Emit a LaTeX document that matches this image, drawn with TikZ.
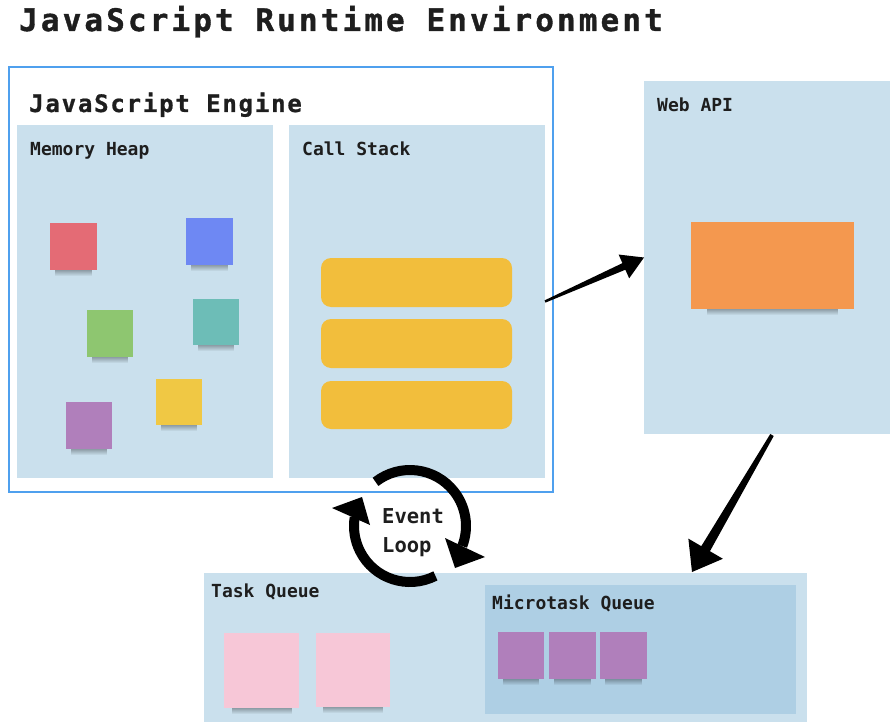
\documentclass[tikz,border=0pt]{standalone}
\usepackage{fontspec}
\setmainfont{DejaVu Sans Mono}[BoldFont={DejaVu Sans Mono Bold}]
\newfontfamily\titlefont{DejaVu Sans Mono Bold}[LetterSpace=10, FakeBold=1.2]
\newfontfamily\enginefont{DejaVu Sans Mono Bold}[LetterSpace=7.5, FakeBold=0.8]
\usetikzlibrary{calc,fadings}
\definecolor{panel}{HTML}{CAE0ED}
\definecolor{micro}{HTML}{AECFE4}
\definecolor{frame}{HTML}{4FA0EE}
\definecolor{txt}{HTML}{1E1E1E}
\definecolor{sred}{HTML}{E46B75}
\definecolor{sblue}{HTML}{6E88F3}
\definecolor{sgreen}{HTML}{8EC670}
\definecolor{steal}{HTML}{6DBDB7}
\definecolor{spurple}{HTML}{B07FBB}
\definecolor{syellow}{HTML}{F0C844}
\definecolor{sorange}{HTML}{F4984F}
\definecolor{spink}{HTML}{F7C7D7}
\definecolor{barc}{HTML}{F2BE3C}
\tikzset{
  panelbox/.style={fill=panel, draw=none, anchor=north west, inner sep=0pt, outer sep=0pt},
  microbox/.style={fill=micro, draw=none, anchor=north west, inner sep=0pt, outer sep=0pt},
  outerbox/.style={draw=frame, line width=1.5pt, fill=white, anchor=north west, inner sep=0pt, outer sep=0pt},
  stickynote/.style={draw=none, inner sep=0pt, outer sep=0pt, anchor=north west},
  stackbar/.style={fill=barc, draw=none, rounded corners=10pt, inner sep=0pt, minimum width=191pt},
  lbl/.style={anchor=base west, inner sep=0pt, text=txt, font=\bfseries\fontsize{18}{22}\selectfont},
  loopline/.style={line width=10pt, draw=black},
}
\newcommand\sticky[6]{%
  \fill[black, opacity=0.4, path fading=south] ({#2+0.1*(#4-#2)},{-#5+2}) rectangle ({#4-0.1*(#4-#2)},{-#5-6});
  \node[stickynote, fill=#6, minimum width={#4-#2}, minimum height={#5-#3}] (#1) at (#2,-#3) {};
}
\newcommand\taper[6]{%
  \path ($(#2)!#3!(#1)$) coordinate (tb);
  \fill ($(#1)!#5!90:(#2)$) -- ($(tb)!#6!90:(#2)$) -- ($(tb)!#4!90:(#2)$) -- (#2)
        -- ($(tb)!#4!-90:(#2)$) -- ($(tb)!#6!-90:(#2)$) -- ($(#1)!#5!-90:(#2)$) -- cycle;
}
\begin{document}
\begin{tikzpicture}[x=1pt,y=1pt]
\useasboundingbox[fill=white] (0,0) rectangle (890,-722);

% title
\node[anchor=base west, inner sep=0pt, text=txt, font=\titlefont\fontsize{31}{36}\selectfont] (title) at (19,-31) {JavaScript Runtime Environment};

% JavaScript engine
\node[outerbox, minimum width=544, minimum height=425] (engine) at (9,-67) {};
\node[anchor=base west, inner sep=0pt, text=txt, font=\enginefont\fontsize{24}{28}\selectfont] (enginelbl) at (29,-112) {JavaScript Engine};
\node[panelbox, minimum width=256, minimum height=353] (heap) at (17,-125) {};
\node[panelbox, minimum width=256, minimum height=353] (stack) at (289,-125) {};
\node[lbl] (heaplbl) at (30,-156) {Memory Heap};
\node[lbl] (stacklbl) at (302,-156) {Call Stack};

% memory heap stickies
\sticky{hred}{50}{223}{97}{270}{sred}
\sticky{hblue}{186}{218}{233}{265}{sblue}
\sticky{hgreen}{87}{310}{133}{357}{sgreen}
\sticky{hteal}{193}{299}{239}{345}{steal}
\sticky{hpurple}{66}{402}{112}{449}{spurple}
\sticky{hyellow}{156}{379}{202}{425}{syellow}

% call stack bars
\node[stackbar, minimum height=49pt] (bar1) at (416.5,-282.5) {};
\node[stackbar, minimum height=49pt] (bar2) at (416.5,-343.5) {};
\node[stackbar, minimum height=48pt] (bar3) at (416.5,-405) {};

% Web API
\node[panelbox, minimum width=246, minimum height=353] (webapi) at (644,-81) {};
\node[lbl] (weblbl) at (657,-112) {Web API};
\sticky{worange}{691}{222}{854}{309}{sorange}

% queues
\node[panelbox, minimum width=603, minimum height=149] (taskq) at (204,-573) {};
\node[lbl] (tasklbl) at (211,-597) {Task Queue};
\sticky{tpink1}{224}{633}{299}{708}{spink}
\sticky{tpink2}{316}{633}{390}{707}{spink}
\node[microbox, minimum width=311, minimum height=129] (microq) at (485,-585) {};
\node[lbl] (microlbl) at (492,-609) {Microtask Queue};
\sticky{mp1}{498}{632}{544}{679}{spurple}
\sticky{mp2}{549}{632}{596}{679}{spurple}
\sticky{mp3}{600}{632}{647}{679}{spurple}

% arrows
\coordinate (a2tail) at (772,-435);
\coordinate (a2tip) at (692,-572);
\taper{stack.east}{webapi.west}{22pt}{13pt}{1.2pt}{3.6pt}
\taper{a2tail}{a2tip}{27pt}{20pt}{2pt}{5pt}

% event loop
\coordinate (el) at (410,-526);
\draw[loopline] ($(el)+(128:56)$) arc[start angle=128, end angle=-21, radius=56];
\draw[loopline] ($(el)+(-63:56)$) arc[start angle=-63, end angle=-189, radius=56];
\fill ($(el)+(35,-12)$) -- ($(el)+(75,-31)$) -- ($(el)+(45,-42)$) -- cycle;
\fill ($(el)+(-78,18)$) -- ($(el)+(-48,29)$) -- ($(el)+(-40,1)$) -- cycle;
\node[anchor=base west, inner sep=0pt, text=txt, font=\bfseries\fontsize{20.5}{25}\selectfont] (evt) at (382,-523) {Event};
\node[anchor=base west, inner sep=0pt, text=txt, font=\bfseries\fontsize{20.5}{25}\selectfont] (loop) at (382,-552) {Loop};
\end{tikzpicture}
\end{document}
